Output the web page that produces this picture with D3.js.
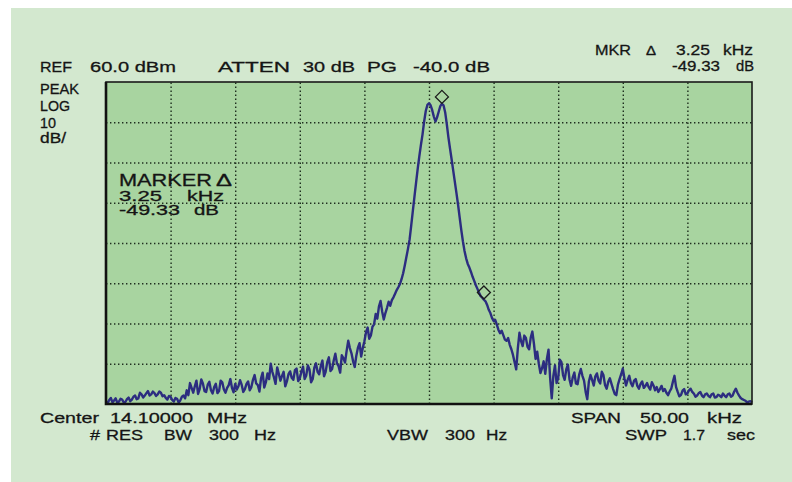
<html lang="en">
<head>
	<script src="https://cdn.jsdelivr.net/npm/d3@7/dist/d3.min.js"></script>
	<style>
		body { margin: 0; background: #fff; }
		text { font-family: "Liberation Sans", Arial, sans-serif; fill: #151515; stroke: #151515; stroke-width: 0.3px; }
	</style>
</head>
<body>
	<script type="text/javascript">
		var w = 792;
		var h = 482;

		// sweep settings (kHz offset from center, dBm)
		var startKHz = -25;
		var stopKHz = 25;
		var stepKHz = 0.125;
		var refLevel = 60;
		var bottomLevel = -20;
		var xTicks = [-25, -20, -15, -10, -5, 0, 5, 10, 15, 20, 25];
		var yTicks = [-20, -10, 0, 10, 20, 30, 40, 50, 60];

		// trace levels in dBm, one per sweep point
		var levels = [
			-19.3, -19.8, -19.0, -18.5, -19.6, -19.1, -18.6, -19.7, -19.4, -18.7,
			-18.9, -19.6, -19.5, -18.8, -18.4, -19.3, -18.9, -18.2, -17.9, -18.8,
			-18.6, -17.2, -17.6, -18.4, -17.9, -17.3, -16.8, -17.9, -17.6, -16.9,
			-17.3, -18.0, -17.6, -16.9, -17.2, -18.1, -17.8, -18.5, -18.9, -18.0,
			-18.2, -19.0, -19.4, -18.5, -18.7, -19.6, -19.1, -18.2, -17.9, -18.6,
			-16.6, -17.8, -14.8, -16.0, -17.2, -15.6, -14.2, -17.5, -16.3, -13.9,
			-14.9, -16.8, -17.0, -15.2, -14.5, -16.6, -17.4, -15.8, -15.0, -17.3,
			-16.8, -14.2, -14.6, -16.4, -17.2, -16.0, -15.3, -13.8, -16.0, -17.1,
			-15.0, -16.4, -15.6, -14.1, -15.2, -17.0, -16.3, -15.0, -14.4, -16.6,
			-15.8, -14.0, -12.8, -14.9, -15.3, -16.9, -13.6, -12.2, -15.9, -14.6,
			-12.4, -13.8, -10.0, -12.0, -13.4, -15.0, -10.9, -12.5, -14.2, -13.0,
			-12.0, -15.6, -14.4, -12.6, -11.9, -13.5, -14.0, -11.6, -11.2, -14.3,
			-13.6, -12.0, -10.7, -13.8, -12.9, -10.4, -11.4, -14.6, -13.8, -11.0,
			-9.9, -12.0, -12.6, -10.6, -9.2, -13.1, -12.0, -9.6, -8.4, -11.8,
			-11.3, -9.2, -7.5, -9.9, -10.6, -12.2, -7.9, -8.6, -9.7, -6.8,
			-4.3, -6.1, -7.4, -9.4, -10.8, -8.0, -6.0, -4.9, -8.2, -6.1,
			-4.4, -2.2, -1.0, -3.8, -3.0, -0.8, -0.2, 2.4, 1.2, 4.2,
			5.6, 3.0, 1.0, 2.6, 3.9, 5.4, 4.4, 5.8, 6.5, 7.4,
			8.3, 9.0, 9.8, 11.0, 12.5, 14.4, 16.5, 18.6, 20.9, 24.4,
			28.0, 31.5, 35.0, 38.4, 41.5, 44.4, 47.0, 50.2, 52.8, 54.3,
			54.7, 54.2, 53.0, 51.4, 50.2, 51.2, 52.6, 54.0, 54.6, 54.2,
			52.5, 49.6, 46.3, 43.5, 40.8, 38.0, 35.2, 32.4, 29.5, 26.3,
			23.2, 20.4, 18.0, 16.2, 14.8, 13.9, 12.8, 11.6, 10.6, 9.5,
			8.6, 7.6, 6.8, 6.4, 5.9, 5.5, 4.6, 3.4, 2.6, 1.4,
			0.6, 0.9, -0.3, -1.6, -2.4, -1.8, -2.9, -4.0, -4.3, -3.6,
			-5.3, -6.4, -7.8, -9.6, -11.4, -6.2, -2.3, -4.4, -5.6, -3.0,
			-3.6, -5.8, -6.4, -3.5, -2.0, -5.1, -8.8, -7.0, -10.0, -12.3,
			-11.1, -9.4, -12.5, -8.8, -6.5, -13.5, -18.6, -13.0, -10.4, -14.8,
			-13.6, -9.0, -9.6, -12.8, -14.0, -11.4, -10.2, -13.9, -15.5, -13.4,
			-12.2, -14.9, -15.1, -12.7, -11.3, -13.0, -14.2, -17.0, -18.8, -14.4,
			-12.8, -14.0, -15.4, -13.1, -12.4, -14.2, -14.9, -12.0, -12.8, -15.3,
			-16.2, -14.5, -13.6, -15.0, -16.3, -17.5, -17.8, -15.2, -13.8, -12.6,
			-11.2, -13.6, -15.4, -14.0, -13.0, -14.8, -15.6, -14.2, -13.8, -15.5,
			-16.2, -15.0, -14.4, -16.0, -15.5, -14.8, -15.8, -16.4, -14.6, -15.4,
			-16.6, -15.8, -17.0, -16.3, -15.5, -16.8, -16.3, -17.2, -17.8, -16.9,
			-16.2, -14.5, -13.0, -15.8, -17.0, -18.1, -17.8, -16.7, -16.3, -17.6,
			-17.4, -16.6, -16.2, -17.0, -17.4, -18.2, -17.9, -17.3, -17.0, -17.9,
			-18.3, -17.6, -17.4, -18.0, -18.3, -17.6, -17.4, -18.4, -18.3, -17.7,
			-17.9, -18.3, -17.4, -17.9, -18.3, -17.6, -17.4, -18.2, -17.9, -16.9,
			-16.2, -17.2, -17.9, -18.5, -18.8, -19.0, -19.2, -19.6, -19.4, -19.3,
			-19.6
		];

		// markers: frequency offset (kHz) and level (dBm)
		var markerFreq = [1.0, 4.25];
		var markerLevel = [56.3, 7.7];

		// screen annotations: text, x, baseline, width, font size
		var labels = [
			["REF", 40, 72, 32, 15.5], ["60.0 dBm", 90, 72, 86, 15.5],
			["ATTEN", 218, 72, 72, 15.5], ["30 dB", 303, 72, 52, 15.5],
			["PG", 367, 72, 30, 15.5], ["-40.0 dB", 413, 72, 77, 15.5],
			["MKR", 595, 55, 36, 15.5], ["\u0394", 646, 55, 10, 12],
			["3.25", 676, 55, 34, 15.5], ["kHz", 723, 55, 30, 15.5],
			["-49.33", 672, 71, 48, 15.5], ["dB", 736, 71, 18, 15.5],
			["PEAK", 40, 94, 39, 14.5], ["LOG", 40, 111, 30, 14.5],
			["10", 40, 128, 16, 14.5], ["dB/", 40, 143, 26, 14.5],
			["MARKER", 119, 185.5, 93, 16.5], ["\u0394", 216, 185.5, 16, 16.5],
			["3.25", 119, 200.5, 43, 14], ["kHz", 187, 200.5, 37, 14],
			["-49.33", 119, 215, 61, 14], ["dB", 194, 215, 25, 14],
			["Center", 40, 423, 59, 15.5], ["14.10000", 110, 423, 83, 15.5],
			["MHz", 207, 423, 40, 15.5],
			["#", 90, 440, 10, 15.5], ["RES", 106, 440, 37, 15.5],
			["BW", 164, 440, 28, 15.5], ["300", 209, 440, 30, 15.5],
			["Hz", 254, 440, 22, 15.5], ["VBW", 387, 440, 41, 15.5],
			["300", 445, 440, 30, 15.5], ["Hz", 486, 440, 21, 15.5],
			["SPAN", 571, 423, 50, 15.5], ["50.00", 640, 423, 49, 15.5],
			["kHz", 707, 423, 35, 15.5],
			["SWP", 625, 440, 42, 15.5], ["1.7", 683, 440, 22, 15.5],
			["sec", 727, 440, 28, 15.5]
		];

		var plot = {left: 106, top: 82, right: 752, bottom: 404};

		var svg = d3.select("body")
				.append("svg")
				.attr("width", w)
				.attr("height", h);

		// outer panel
		svg.append("rect")
			.attr("x", 11).attr("y", 8)
			.attr("width", w - 11).attr("height", h - 8)
			.attr("fill", "#d3e8cf");

		var x = d3.scaleLinear().domain([startKHz, stopKHz]).range([plot.left, plot.right]);
		var y = d3.scaleLinear().domain([bottomLevel, refLevel]).range([plot.bottom, plot.top]);

		svg.append("rect")
			.attr("x", plot.left).attr("y", plot.top)
			.attr("width", plot.right - plot.left).attr("height", plot.bottom - plot.top)
			.attr("fill", "#a8d4a0");

		// graticule
		var gx = svg.append("g")
			.attr("transform", "translate(0," + plot.bottom + ")")
			.call(d3.axisBottom(x).tickValues(xTicks.slice(1, -1)).tickSize(-(plot.bottom - plot.top)).tickFormat(""));
		var gy = svg.append("g")
			.attr("transform", "translate(" + plot.left + ",0)")
			.call(d3.axisLeft(y).tickValues(yTicks.slice(1, -1)).tickSize(-(plot.right - plot.left)).tickFormat(""));
		[gx, gy].forEach(function(g){
			g.select(".domain").remove();
			g.selectAll(".tick line")
				.attr("stroke", "#1f2f1f")
				.attr("stroke-width", 1.4)
				.attr("stroke-dasharray", "1.4,2.6");
		});

		// trace
		var freqs = d3.range(levels.length).map(function(i){ return startKHz + i * stepKHz; });
		var line = d3.line()
			.x(function(d, i){ return x(freqs[i]); })
			.y(function(d){ return y(d); });
		svg.append("path")
			.datum(levels)
			.attr("d", line)
			.attr("fill", "none")
			.attr("stroke", "#2c2d80")
			.attr("stroke-width", 2.4)
			.attr("stroke-linejoin", "round");

		// frame
		svg.append("rect")
			.attr("x", plot.left).attr("y", plot.top)
			.attr("width", plot.right - plot.left).attr("height", plot.bottom - plot.top)
			.attr("fill", "none")
			.attr("stroke", "#1a1a1a")
			.attr("stroke-width", 1.6);
		svg.append("path")
			.attr("d", "M" + plot.left + "," + plot.top + "V" + plot.bottom + "H" + plot.right)
			.attr("fill", "none")
			.attr("stroke", "#111")
			.attr("stroke-width", 2.6);

		// marker diamonds
		var dsz = 6.5;
		svg.selectAll(".mkr")
			.data(markerFreq)
			.enter()
			.append("path")
			.attr("class", "mkr")
			.attr("d", function(d, i){
				var cx = x(d), cy = y(markerLevel[i]);
				return "M" + cx + "," + (cy - dsz) + "L" + (cx + dsz) + "," + cy +
					"L" + cx + "," + (cy + dsz) + "L" + (cx - dsz) + "," + cy + "Z";
			})
			.attr("fill", "none")
			.attr("stroke", "#1a1a1a")
			.attr("stroke-width", 1.3);

		// annotations
		svg.selectAll(".lbl")
			.data(labels)
			.enter()
			.append("text")
			.attr("class", "lbl")
			.attr("x", function(d){ return d[1]; })
			.attr("y", function(d){ return d[2]; })
			.attr("textLength", function(d){ return d[3]; })
			.attr("lengthAdjust", "spacingAndGlyphs")
			.style("font-size", function(d){ return d[4] + "px"; })
			.text(function(d){ return d[0]; });
	</script>
</body>
</html>
